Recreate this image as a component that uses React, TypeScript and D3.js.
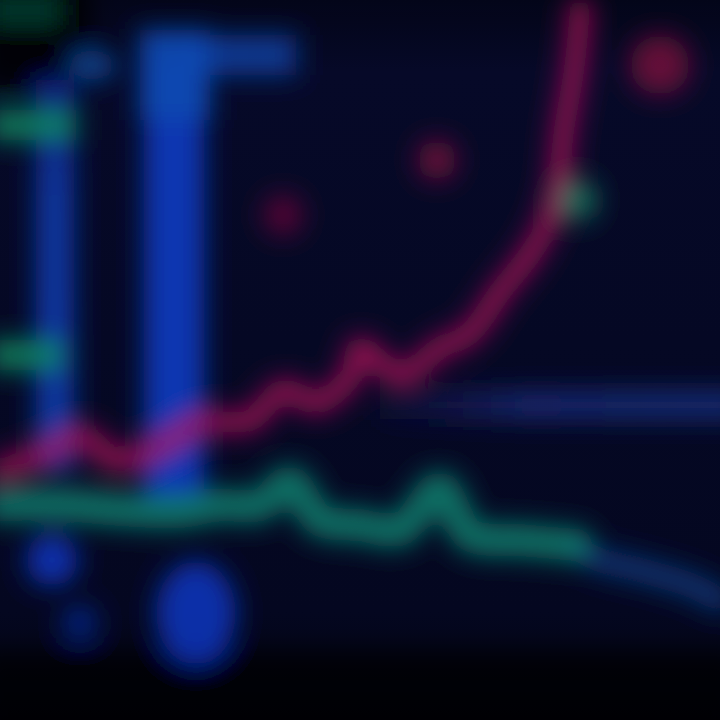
import React from "react";
import * as d3 from "d3";

const W = 720;
const H = 720;

// price line (magenta)
const redT = [0, 2, 4.2, 5.8, 8.3, 10, 12.5, 14.2, 15.8, 17.5, 18, 20, 22, 23.5, 25, 26.8, 27.8, 28.2, 28.7, 29];
const redV = [25, 26.5, 28.3, 26, 27.7, 29.7, 30, 33, 31.7, 34.3, 37.2, 34.5, 37.2, 38.7, 42.8, 47.5, 52.5, 59, 65, 71];

// lower teal line
const greenT = [0, 3, 6, 9, 11, 13, 14.5, 16, 18, 20, 22, 23.5, 26, 28.8];
const greenV = [21.5, 21.5, 21, 20.8, 21.5, 21.5, 23.8, 20, 19.5, 19, 23.2, 18.5, 18, 17.5];

// faint blue continuation
const tailT = [28.8, 30, 32, 34.5, 36];
const tailV = [17.2, 16, 15, 13.5, 12];

// blue bars: start, end, low, high
const barStart = [1.8, 7.2, 7, 9];
const barEnd = [3.7, 10.2, 10.5, 14.8];
const barLow = [25, 22, 60, 64.5];
const barHigh = [64, 66, 69, 68.5];

// blue blobs below
const blobT = [2.6, 4, 9.8, 4.6];
const blobV = [16, 9.7, 10.7, 65.5];
const blobRT = [1.3, 0.9, 2, 1.2];
const blobRV = [2.6, 1.8, 5.2, 1.5];

// green level segments
const levelStart = [0, 0, 0];
const levelEnd = [3.8, 3.2, 3];
const levelV = [59.5, 36.5, 71];

// dots
const dotT = [14.15, 21.85, 33, 28.85];
const dotV = [50.5, 56, 65.5, 52];
const dotKind = ["red", "red", "red", "green"];

// horizontal band
const bandStart = 19;
const bandEnd = 36;
const bandV = 31.5;

const x = d3.scaleLinear().domain([0, 36]).range([0, W]);
const y = d3.scaleLinear().domain([0, 72]).range([H, 0]);

export default function App() {
  const redLine = d3
    .line<number>()
    .x((_, i) => x(redT[i]))
    .y((d) => y(d))
    .curve(d3.curveCatmullRom)(redV) as string;
  const greenLine = d3
    .line<number>()
    .x((_, i) => x(greenT[i]))
    .y((d) => y(d))
    .curve(d3.curveCatmullRom)(greenV) as string;
  const tailLine = d3
    .line<number>()
    .x((_, i) => x(tailT[i]))
    .y((d) => y(d))
    .curve(d3.curveCatmullRom)(tailV) as string;
  const gridTs = d3.range(0, 37, 1.5);

  return (
    <svg
      width={W}
      height={H}
      style={{ position: "absolute", left: 0, top: 0, background: "#060925" }}
    >
      <defs>
        <filter id="blur" x="-20%" y="-20%" width="140%" height="140%">
          <feGaussianBlur stdDeviation="12" />
        </filter>
        <linearGradient id="bg" x1="0" y1="0" x2="0" y2="1">
          <stop offset="0" stopColor="#04061a" />
          <stop offset="0.1" stopColor="#070a2a" />
          <stop offset="0.85" stopColor="#050822" />
          <stop offset="1" stopColor="#020310" />
        </linearGradient>
        <linearGradient id="band" x1="0" y1="0" x2="1" y2="0">
          <stop offset="0" stopColor="#1a1650" stopOpacity="0.3" />
          <stop offset="0.4" stopColor="#1c2a78" stopOpacity="0.85" />
          <stop offset="1" stopColor="#1a3080" stopOpacity="0.85" />
        </linearGradient>
        <linearGradient id="barA" x1="0" y1="0" x2="0" y2="1">
          <stop offset="0" stopColor="#0a2a90" />
          <stop offset="0.3" stopColor="#0a3cb0" />
          <stop offset="1" stopColor="#0a40b8" />
        </linearGradient>
      </defs>
      <rect x={0} y={0} width={W} height={H} fill="url(#bg)" />
      <g filter="url(#blur)">
        <rect x={-20} y={-20} width={110} height={y(61)} fill="#010108" opacity={0.8} />
        <rect x={-20} y={y(7)} width={W + 40} height={120} fill="#010108" opacity={0.7} />
        {gridTs.map((t, i) => (
          <line key={i} x1={x(t)} x2={x(t)} y1={0} y2={H} stroke="#000006" strokeWidth={3} opacity={0.4} />
        ))}
        <rect
          x={x(bandStart)}
          y={y(bandV) - 14}
          width={x(bandEnd) - x(bandStart) + 20}
          height={28}
          fill="url(#band)"
        />
        {barStart.map((s, i) => (
          <rect
            key={i}
            x={x(s)}
            y={y(barHigh[i])}
            width={x(barEnd[i]) - x(s)}
            height={y(barLow[i]) - y(barHigh[i])}
            fill={i === 0 ? "url(#barA)" : i >= 2 ? "#0c48b0" : "#0a38b8"}
            opacity={i === 0 ? 0.85 : i === 3 ? 0.75 : 0.95}
          />
        ))}
        {blobT.map((t, i) => (
          <ellipse
            key={i}
            cx={x(t)}
            cy={y(blobV[i])}
            rx={x(blobRT[i]) - x(0)}
            ry={y(0) - y(blobRV[i])}
            fill={i === 3 ? "#0c4a9a" : "#0a36c0"}
            opacity={i === 1 ? 0.55 : 0.85}
          />
        ))}
        {levelStart.map((s, i) => (
          <rect
            key={i}
            x={x(s) - 10}
            y={y(levelV[i]) - 15}
            width={x(levelEnd[i]) - x(s) + 10}
            height={30}
            fill="#0b8a60"
            opacity={i === 2 ? 0.4 : 0.85}
          />
        ))}
        <path d={tailLine} fill="none" stroke="#12408a" strokeWidth={24} opacity={0.75} strokeLinecap="round" />
        <path d={greenLine} fill="none" stroke="#0e8a74" strokeWidth={32} opacity={0.8} strokeLinecap="round" />
        <path d={redLine} fill="none" stroke="#b0105a" strokeWidth={22} opacity={0.8} strokeLinecap="round" />
        {dotT.map((t, i) => (
          <circle
            key={i}
            cx={x(t)}
            cy={y(dotV[i])}
            r={i === 2 ? 30 : 20}
            fill={dotKind[i] === "red" ? "#8a0a40" : "#1a8a6a"}
            opacity={i === 0 ? 0.55 : 0.7}
          />
        ))}
      </g>
    </svg>
  );
}
